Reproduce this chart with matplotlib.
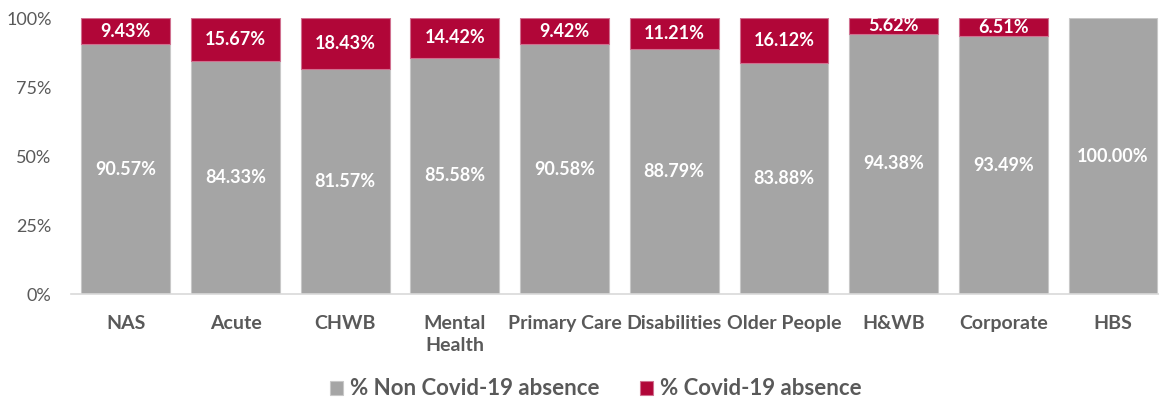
import numpy as np
import matplotlib
matplotlib.use("Agg")
import matplotlib.pyplot as plt

categories = ["NAS", "Acute", "CHWB", "Mental\nHealth", "Primary Care", "Disabilities",
              "Older People", "H&WB", "Corporate", "HBS"]
non_covid = [90.57, 84.33, 81.57, 85.58, 90.58, 88.79, 83.88, 94.38, 93.49, 100.00]
covid = [9.43, 15.67, 18.43, 14.42, 9.42, 11.21, 16.12, 5.62, 6.51, 0.0]

grey = "#A5A5A5"
red = "#B10638"
text_grey = "#595959"

plt.rcParams["font.family"] = ["Lato", "DejaVu Sans"]

fig = plt.figure(figsize=(11.59, 4.01), dpi=100)
ax = fig.add_axes([0.0613, 0.2668, 0.9387, 0.6882])

x = np.arange(len(categories))
w = 0.81
b1 = ax.bar(x, non_covid, w, color=grey, edgecolor="#C8C8C8", linewidth=0.8,
            label="% Non Covid-19 absence")
red_edges = ["#D07090" if c > 0 else "none" for c in covid]
b2 = ax.bar(x, covid, w, bottom=non_covid, color=red, edgecolor=red_edges, linewidth=0.8,
            label="% Covid-19 absence")

for i in range(len(categories)):
    ax.text(x[i], non_covid[i] / 2, f"{non_covid[i]:.2f}%", ha="center", va="center",
            color="white", fontsize=13, fontweight="bold")
    if covid[i] > 0:
        ax.text(x[i], non_covid[i] + covid[i] / 2, f"{covid[i]:.2f}%", ha="center",
                va="center", color="white", fontsize=13, fontweight="bold")

ax.set_xlim(-0.5, 9.42)
ax.set_ylim(0, 100)
ax.set_yticks([0, 25, 50, 75, 100])
ax.set_yticklabels(["0%", "25%", "50%", "75%", "100%"], color=text_grey, fontsize=13)
ax.set_xticks(x)
ax.set_xticklabels(categories, color=text_grey, fontsize=14, fontweight="bold",
                   va="top", linespacing=1.35)
ax.tick_params(axis="both", length=0)
ax.tick_params(axis="x", pad=15)
ax.tick_params(axis="y", pad=14)
for s in ["top", "right", "left"]:
    ax.spines[s].set_visible(False)
ax.spines["bottom"].set_color("#D9D9D9")
ax.spines["bottom"].set_linewidth(1.2)

leg = fig.legend(handles=[b1, b2], loc="center", bbox_to_anchor=(0.514, 0.030), ncol=2,
                 frameon=False, fontsize=16, handlelength=0.6, handleheight=0.6,
                 handletextpad=0.3, columnspacing=1.8)
for t in leg.get_texts():
    t.set_color(text_grey)
    t.set_fontweight("bold")

fig.savefig("out.png", dpi=100)
plt.close(fig)
